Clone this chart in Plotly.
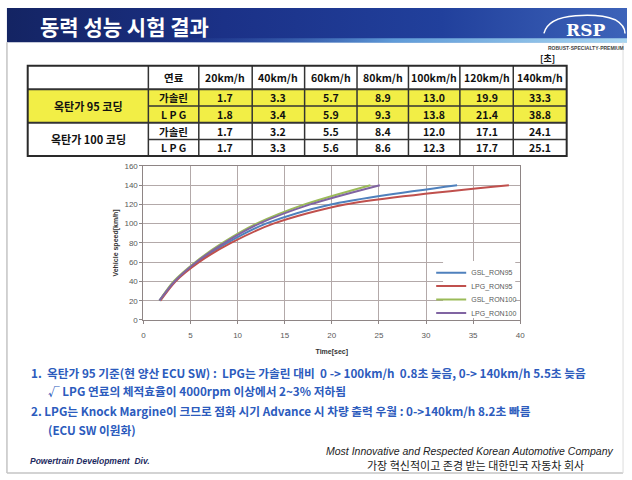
import plotly.graph_objects as go

W, H = 632, 480

# ---------------- data ----------------
speeds = [20, 40, 60, 80, 100, 120, 140]
speed_labels = ["20km/h", "40km/h", "60km/h", "80km/h", "100km/h", "120km/h", "140km/h"]
gsl_ron95 = [1.7, 3.3, 5.7, 8.9, 13.0, 19.9, 33.3]
lpg_ron95 = [1.8, 3.4, 5.9, 9.3, 13.8, 21.4, 38.8]
gsl_ron100 = [1.7, 3.2, 5.5, 8.4, 12.0, 17.1, 24.1]
lpg_ron100 = [1.7, 3.3, 5.6, 8.6, 12.3, 17.7, 25.1]
series_names = ["GSL_RON95", "LPG_RON95", "GSL_RON100", "LPG_RON100"]
group_labels = ["옥탄가 95 코딩", "옥탄가 100 코딩"]
fuel_labels = ["가솔린", "L P G"]
fuel_header = "연료"
unit_label = "[초]"
x_ticks = [0, 5, 10, 15, 20, 25, 30, 35, 40]
y_ticks = [0, 20, 40, 60, 80, 100, 120, 140, 160]
title_text = "동력 성능 시험 결과"
notes = [
    "1.  옥탄가 95 기준(현 양산 ECU SW) :  LPG는 가솔린 대비  0 -> 100km/h  0.8초 늦음, 0-> 140km/h 5.5초 늦음",
    "√ LPG 연료의 체적효율이 4000rpm 이상에서 2~3% 저하됨",
    "2. LPG는 Knock Margine이 크므로 점화 시기 Advance 시 차량 출력 우월 : 0->140km/h 8.2초 빠름",
    "(ECU SW 이원화)",
]

# ---------------- styles / layout constants ----------------
series_colors = ["#4f81bd", "#c0504d", "#9bbb59", "#8064a2"]
KR = "Noto Sans CJK KR"
SANS = "Liberation Sans"
col_edges = [26, 148, 199, 253, 306, 359, 411, 463, 517, 571]
row_edges = [63, 87, 104, 121, 138, 155]
plot_x0, plot_x1, plot_y0, plot_y1 = 143, 524, 165, 322
legend_x, legend_top, legend_step = 434, 262, 13.7

series = [gsl_ron95, lpg_ron95, gsl_ron100, lpg_ron100]

fig = go.Figure()

# chart lines, each with its own (compact) legend
for k, (name, xs, c) in enumerate(zip(series_names, series, series_colors)):
    fig.add_trace(go.Scatter(
        x=xs, y=speeds, name=name, mode="lines",
        line=dict(color=c, width=2, shape="spline", smoothing=0.8),
        legend="legend" if k == 0 else f"legend{k + 1}",
        hoverinfo="skip"))

# title bar (page axis x3/y3 in pixel units)
def page_trace(xs, ys, **kw):
    fig.add_trace(go.Scatter(x=xs, y=ys, xaxis="x3", yaxis="y3", mode="lines",
                             showlegend=False, hoverinfo="skip", **kw))

page_trace([5, 632, 632, 5, 5], [4, 4, 39, 39, 4], fill="toself", line=dict(width=0),
           fillgradient=dict(type="horizontal",
                             colorscale=[[0, "#142463"], [0.35, "#1b3187"],
                                         [0.7, "#21409c"], [1, "#3d63b9"]]))
page_trace([160, 632, 632, 160, 160], [35, 35, 39.5, 39.5, 35], fill="toself", line=dict(width=0),
           fillgradient=dict(type="horizontal",
                             colorscale=[[0, "rgba(40,70,160,0)"], [0.5, "#5f9bd8"],
                                         [1, "#a9d6f0"]]))

shapes = []
annotations = []

def P(x, y):
    return x / W, 1 - y / H

def text(x, y, s, size, color="#111", family=KR, weight="normal", style="normal",
         xanchor="center", yanchor="middle"):
    px, py = P(x, y)
    annotations.append(dict(x=px, y=py, xref="paper", yref="paper", text=s, showarrow=False,
                            xanchor=xanchor, yanchor=yanchor, borderpad=0,
                            font=dict(size=size, color=color, family=family,
                                      weight=weight, style=style)))

def rect(x0, y0, x1, y1, fill=None, line=None, lw=0, layer="above"):
    shapes.append(dict(type="rect", xref="x3", yref="y3", x0=x0, y0=y0, x1=x1, y1=y1,
                       fillcolor=fill if fill else "rgba(0,0,0,0)",
                       line=dict(color=line if line else "rgba(0,0,0,0)", width=lw),
                       layer=layer))

def seg(x0, y0, x1, y1, color="#333", lw=1.5):
    shapes.append(dict(type="line", xref="x3", yref="y3", x0=x0, y0=y0, x1=x1, y1=y1,
                       line=dict(color=color, width=lw), layer="above"))

# slide frame
seg(5, 39, 5, 478, color="#c4c4c4", lw=1.5)
seg(5, 478, 628, 478, color="#c4c4c4", lw=1.5)
seg(628, 39, 628, 478, color="#dcdcdc", lw=1)

# title
text(37, 22, title_text, 21, color="white", xanchor="left", weight="bold")
# logo
shapes.append(dict(type="path", xref="x3", yref="y3",
                   path="M 548 30 Q 552 14 580 12 Q 605 10 620 16 Q 630 22 630 30",
                   line=dict(color="white", width=1.5), layer="above"))
text(590, 26, "RSP", 17, color="white", family="DejaVu Serif", weight="bold")
text(630, 45, "ROBUST·SPECIALTY·PREMIUM", 5, color="#444", family=SANS, weight="bold",
     xanchor="right")

# unit
text(552, 56, unit_label, 9, weight="bold")

# table fills
rect(col_edges[0], row_edges[1], col_edges[-1], row_edges[3], fill="#f2ee46")
# table grid
for k in range(1, len(col_edges) - 1):
    seg(col_edges[k], row_edges[0], col_edges[k], row_edges[-1], lw=1.5)
for k in range(1, len(row_edges) - 1):
    x_start = col_edges[1] if k in (2, 4) else col_edges[0]
    seg(x_start, row_edges[k], col_edges[-1], row_edges[k], lw=1.5 if k in (2, 4) else 2)
rect(col_edges[0], row_edges[0], col_edges[-1], row_edges[-1], line="#2a2a2a", lw=2)

def cx(i):
    return (col_edges[i] + col_edges[i + 1]) / 2

def cy(j):
    return (row_edges[j] + row_edges[j + 1]) / 2

text(cx(1), cy(0), fuel_header, 10.5, weight="bold")
for i, lab in enumerate(speed_labels):
    text(cx(i + 2), cy(0), lab, 10.5, weight="bold")
for g, lab in enumerate(group_labels):
    text(cx(0), row_edges[1 + 2 * g + 1], lab, 11, weight="bold")
for r, vals in enumerate(series):
    text(cx(1), cy(r + 1), fuel_labels[r % 2], 10.5, weight="bold")
    for i, v in enumerate(vals):
        text(cx(i + 2), cy(r + 1), f"{v:.1f}", 10.5, weight="bold")

# white panel behind the legend (hides gridlines like the Excel legend box)
rect(446, 262, 519, 320, fill="white", layer="above")

# notes
note_color = "#2c5bbd"
text(28, 376, notes[0], 11.7, color=note_color, weight="bold", xanchor="left")
text(45, 394, notes[1], 11.7, color=note_color, weight="bold", xanchor="left")
text(28, 414, notes[2], 11.7, color=note_color, weight="bold", xanchor="left")
text(45, 434, notes[3], 11.7, color=note_color, weight="bold", xanchor="left")

# footer
text(27, 466, "Powertrain Development  Div.", 8.5, color="#1c2a60", family=SANS,
     weight="bold", style="italic", xanchor="left")
text(620, 456, "Most Innovative and Respected Korean Automotive Company", 10.5,
     color="#222", family=SANS, style="italic", xanchor="right")
text(479, 470, "가장 혁신적이고 존경 받는 대한민국 자동차 회사", 11, color="#222")

axis_font = dict(size=8, color="#595959", family=SANS)
legend_style = dict(xanchor="left", yanchor="top", bgcolor="rgba(0,0,0,0)",
                    font=dict(size=7, color="#595959", family=SANS), itemwidth=30)
legends = {}
for k in range(4):
    key = "legend" if k == 0 else f"legend{k + 1}"
    legends[key] = dict(x=legend_x / W, y=1 - (legend_top + k * legend_step - 3) / H,
                        **legend_style)

fig.update_layout(
    width=W, height=H,
    margin=dict(l=0, r=0, t=0, b=0),
    paper_bgcolor="white", plot_bgcolor="rgba(0,0,0,0)",
    showlegend=True,
    xaxis=dict(domain=[plot_x0 / W, plot_x1 / W], range=[0, 40], tickvals=x_ticks,
               showgrid=True, gridcolor="#b3a9a9", gridwidth=1, zeroline=False,
               showline=True, linecolor="#8e8585", linewidth=1, mirror=True,
               ticks="outside", ticklen=3, tickcolor="#8e8585", tickfont=axis_font,
               ticklabelstandoff=4,
               title=dict(text="<b>Time[sec]</b>", font=dict(size=7, color="#333", family=SANS),
                          standoff=10)),
    yaxis=dict(domain=[1 - plot_y1 / H, 1 - plot_y0 / H], range=[0, 160], tickvals=y_ticks,
               showgrid=True, gridcolor="#b3a9a9", gridwidth=1, zeroline=False,
               showline=True, linecolor="#8e8585", linewidth=1, mirror=True,
               ticks="outside", ticklen=3, tickcolor="#8e8585", tickfont=axis_font,
               title=dict(text="<b>Vehicle speed[km/h]</b>", font=dict(size=7, color="#333", family=SANS),
                          standoff=4)),
    xaxis3=dict(domain=[0, 1], range=[0, W], visible=False, fixedrange=True),
    yaxis3=dict(domain=[0, 1], range=[H, 0], visible=False, fixedrange=True),
    shapes=shapes,
    annotations=annotations,
    **legends,
)

fig.write_html("out.html", config={"displayModeBar": False},
               post_script="document.body.style.margin='0';")
